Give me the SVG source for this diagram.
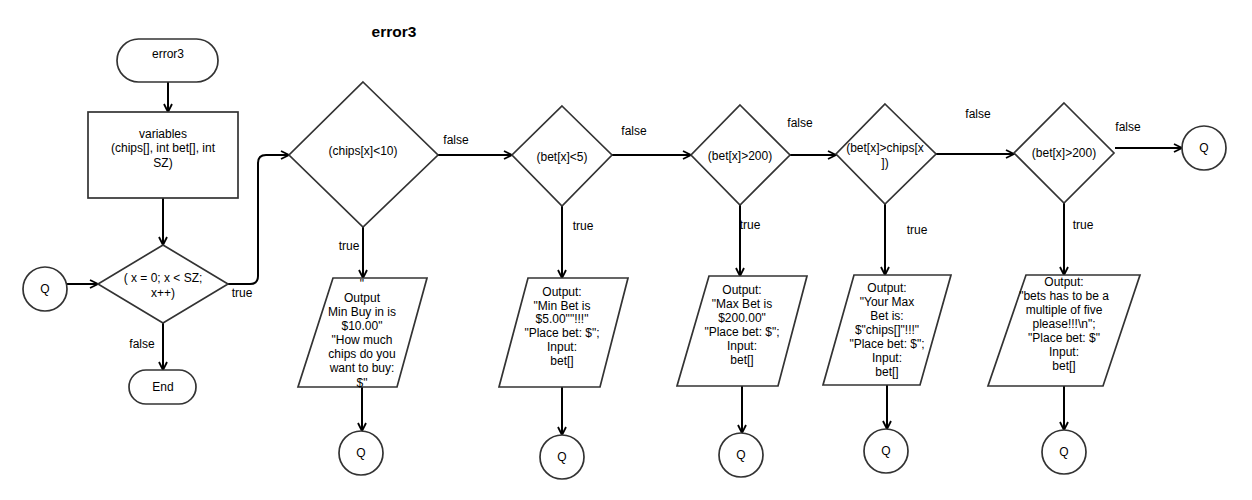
<svg xmlns="http://www.w3.org/2000/svg" width="1252" height="500" viewBox="0 0 1252 500">
<style>
.s{fill:#fff;stroke:#333;stroke-width:1.7}
.t{font-family:"Liberation Sans",Arial,sans-serif;font-size:12px;fill:#000;text-anchor:middle}
.l{font-family:"Liberation Sans",Arial,sans-serif;font-size:12px;fill:#000;text-anchor:middle}
.title{font-family:"Liberation Sans",Arial,sans-serif;font-size:15.5px;font-weight:bold;fill:#000;text-anchor:middle}
.c{fill:none;stroke:#000;stroke-width:2;marker-end:url(#a)}
</style>
<defs>
<marker id="a" viewBox="0 0 10 10" refX="9" refY="5" markerWidth="10" markerHeight="10" markerUnits="userSpaceOnUse" orient="auto">
<path d="M1,1 L9,5 L1,9" fill="none" stroke="#000" stroke-width="1.8"/>
</marker>
</defs>
<rect width="1252" height="500" fill="#fff"/>
<text class="title" x="394" y="37">error3</text>

<g id="connectors">
<path class="c" d="M168,82 V112"/>
<path class="c" d="M163,198 V245"/>
<path class="c" d="M67,284 H98"/>
<path class="c" d="M163,323 V370"/>
<path class="c" d="M228,284 H250 Q258,284 258,276 V163 Q258,155 266,155 H289"/>
<path class="c" d="M438,155 H512"/>
<path class="c" d="M612,155 H691"/>
<path class="c" d="M790,155 H836"/>
<path class="c" d="M936,154 H1014"/>
<path class="c" d="M1115,148 H1182"/>
<path class="c" d="M363,227 V278"/>
<path class="c" d="M562,206 V278"/>
<path class="c" d="M740,205 V276"/>
<path class="c" d="M885,204 V275"/>
<path class="c" d="M1064,203 V275"/>
<path class="c" d="M362,387 V431"/>
<path class="c" d="M562,387 V435"/>
<path class="c" d="M742,386 V433"/>
<path class="c" d="M887,385 V429"/>
<path class="c" d="M1064,386 V430"/>
<text class="l" x="242" y="297">true</text>
<text class="l" x="142" y="348">false</text>
<text class="l" x="456" y="144">false</text>
<text class="l" x="349" y="250">true</text>
<text class="l" x="634" y="135">false</text>
<text class="l" x="583" y="230">true</text>
<text class="l" x="800" y="127">false</text>
<text class="l" x="750" y="229">true</text>
<text class="l" x="978" y="118">false</text>
<text class="l" x="917" y="234">true</text>
<text class="l" x="1128" y="131">false</text>
<text class="l" x="1083" y="229">true</text>
</g>

<g id="start">
<rect class="s" x="117" y="39" width="101" height="43" rx="21.5"/>
<text class="t" x="168" y="58">error3</text>
</g>
<g id="variables">
<rect class="s" x="88" y="112" width="150" height="86"/>
<text class="t" x="163" y="138">variables</text>
<text class="t" x="163" y="152">(chips[], int bet[], int</text>
<text class="t" x="163" y="167">SZ)</text>
</g>
<g id="loop">
<polygon class="s" points="163,245 228,284 163,323 98,284"/>
<text class="t" x="163" y="282">( x = 0; x &lt; SZ;</text>
<text class="t" x="163" y="297">x++)</text>
</g>
<g id="q-left">
<circle class="s" cx="45" cy="289" r="22"/>
<text class="t" x="45" y="293">Q</text>
</g>
<g id="end">
<rect class="s" x="129" y="370" width="67" height="34" rx="17"/>
<text class="t" x="163" y="391">End</text>
</g>

<g id="d-chips">
<polygon class="s" points="363,82 438,155 363,227 289,155"/>
<text class="t" x="363" y="155">(chips[x]&lt;10)</text>
</g>
<g id="d-bet5">
<polygon class="s" points="562,106 612,155 562,206 512,155"/>
<text class="t" x="562" y="161">(bet[x]&lt;5)</text>
</g>
<g id="d-bet200a">
<polygon class="s" points="740,105 790,155 740,205 691,155"/>
<text class="t" x="740" y="160">(bet[x]&gt;200)</text>
</g>
<g id="d-betchips">
<polygon class="s" points="885,104 936,154 885,204 836,154"/>
<text class="t" x="885" y="152">(bet[x]&gt;chips[x</text>
<text class="t" x="885" y="167">])</text>
</g>
<g id="d-bet200b">
<polygon class="s" points="1064,103 1114,153 1064,203 1014,153"/>
<text class="t" x="1064" y="157">(bet[x]&gt;200)</text>
</g>
<g id="q-right">
<circle class="s" cx="1204" cy="148" r="22"/>
<text class="t" x="1204" y="152">Q</text>
</g>

<g id="p-chips">
<polygon class="s" points="333,278 427,278 397,387 298,387"/>
<text class="t" x="362" y="288">"</text>
<text class="t" x="362" y="302">Output</text>
<text class="t" x="362" y="316">Min Buy in is</text>
<text class="t" x="362" y="330">$10.00"</text>
<text class="t" x="362" y="344">"How much</text>
<text class="t" x="362" y="358">chips do you</text>
<text class="t" x="362" y="372">want to buy:</text>
<text class="t" x="362" y="387">$"</text>
</g>
<g id="p-bet5">
<polygon class="s" points="528,278 628,278 600,387 499,387"/>
<text class="t" x="562" y="296">Output:</text>
<text class="t" x="562" y="310">"Min Bet is</text>
<text class="t" x="562" y="323">$5.00""!!!"</text>
<text class="t" x="562" y="337">"Place bet: $";</text>
<text class="t" x="562" y="351">Input:</text>
<text class="t" x="562" y="365">bet[]</text>
</g>
<g id="p-bet200a">
<polygon class="s" points="709,276 807,276 778,386 677,386"/>
<text class="t" x="742" y="294">Output:</text>
<text class="t" x="742" y="308">"Max Bet is</text>
<text class="t" x="742" y="322">$200.00"</text>
<text class="t" x="742" y="336">"Place bet: $";</text>
<text class="t" x="742" y="350">Input:</text>
<text class="t" x="742" y="364">bet[]</text>
</g>
<g id="p-betchips">
<polygon class="s" points="854,275 951,275 920,385 823,385"/>
<text class="t" x="887" y="292">Output:</text>
<text class="t" x="887" y="306">"Your Max</text>
<text class="t" x="887" y="320">Bet is:</text>
<text class="t" x="887" y="334">$"chips[]"!!!"</text>
<text class="t" x="887" y="348">"Place bet: $";</text>
<text class="t" x="887" y="362">Input:</text>
<text class="t" x="887" y="376">bet[]</text>
</g>
<g id="p-bet200b">
<polygon class="s" points="1026,275 1140,275 1103,386 988,386"/>
<text class="t" x="1064" y="286">Output:</text>
<text class="t" x="1064" y="300">"bets has to be a</text>
<text class="t" x="1064" y="314">multiple of five</text>
<text class="t" x="1064" y="328">please!!!\n";</text>
<text class="t" x="1064" y="342">"Place bet: $"</text>
<text class="t" x="1064" y="356">Input:</text>
<text class="t" x="1064" y="370">bet[]</text>
</g>

<g id="q1"><circle class="s" cx="361" cy="453" r="22"/><text class="t" x="361" y="457">Q</text></g>
<g id="q2"><circle class="s" cx="562" cy="457" r="22"/><text class="t" x="562" y="461">Q</text></g>
<g id="q3"><circle class="s" cx="741" cy="455" r="22"/><text class="t" x="741" y="459">Q</text></g>
<g id="q4"><circle class="s" cx="886" cy="451" r="22"/><text class="t" x="886" y="455">Q</text></g>
<g id="q5"><circle class="s" cx="1064" cy="452" r="22"/><text class="t" x="1064" y="456">Q</text></g>
</svg>
